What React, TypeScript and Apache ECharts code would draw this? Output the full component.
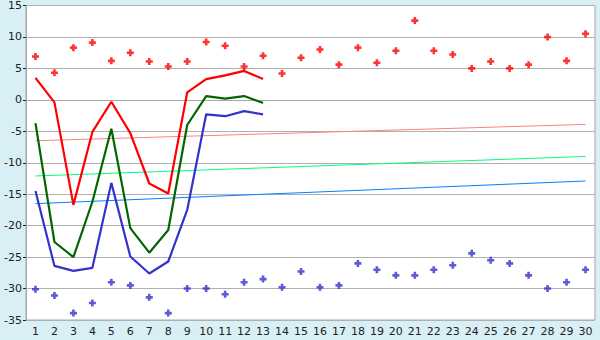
import React, { useEffect, useRef } from "react";
import * as echarts from "echarts";

const categories = Array.from({ length: 30 }, (_, i) => String(i + 1));

const maxPoints = [6.9, 4.3, 8.3, 9.1, 6.2, 7.5, 6.1, 5.3, 6.1, 9.2, 8.6, 5.3, 7.0, 4.2, 6.7, 8.0, 5.6, 8.3, 5.9, 7.8, 12.6, 7.8, 7.2, 5.0, 6.1, 5.0, 5.6, 10.0, 6.2, 10.5];
const minPoints = [-30.1, -31.1, -33.9, -32.3, -29.0, -29.5, -31.4, -33.9, -30.0, -30.0, -30.9, -29.0, -28.5, -29.8, -27.3, -29.8, -29.5, -26.0, -27.0, -27.9, -27.9, -27.0, -26.3, -24.4, -25.5, -26.0, -27.9, -30.0, -29.0, -27.0];

const redLine = [3.5, -0.4, -16.7, -5.1, -0.3, -5.3, -13.3, -14.9, 1.2, 3.3, 3.9, 4.6, 3.3];
const greenLine = [-3.7, -22.6, -25.0, -16.2, -4.6, -20.4, -24.3, -20.7, -4.0, 0.6, 0.2, 0.6, -0.5];
const blueLine = [-14.5, -26.4, -27.2, -26.7, -13.2, -24.9, -27.6, -25.7, -17.5, -2.3, -2.6, -1.8, -2.3];

// trend lines: [start value at category 1, end value at category 30]
const redTrend = [-6.5, -3.9];
const greenTrend = [-12.1, -9.0];
const blueTrend = [-16.5, -12.9];

const yTicks = { min: -35, max: 15, interval: 5 };

const marker = "path://M2.2,0H4.8V2.2H7V4.8H4.8V7H2.2V4.8H0V2.2H2.2Z";

export default function App() {
  const ref = useRef<HTMLDivElement>(null);
  useEffect(() => {
    if (!ref.current) return;
    const chart = echarts.init(ref.current, null, { renderer: "svg" });
    const last = categories.length - 1;
    const trend = (vals: number[], color: string) => ({
      type: "line",
      data: [
        [0, vals[0]],
        [last, vals[1]],
      ],
      showSymbol: false,
      symbol: "none",
      lineStyle: { color, width: 1 },
      z: 1,
      silent: true,
    });
    const mainLine = (vals: number[], color: string) => ({
      type: "line",
      data: vals,
      symbol: "none",
      lineStyle: { color, width: 2.2 },
      z: 3,
    });
    chart.setOption({
      animation: false,
      backgroundColor: "#d9eff6",
      textStyle: { fontFamily: "DejaVu Sans" },
      grid: {
        left: 26,
        top: 5,
        right: 5,
        bottom: 20,
        show: true,
        backgroundColor: "#ffffff",
        borderColor: "#a8a8a8",
        borderWidth: 1,
      },
      xAxis: {
        type: "category",
        data: categories,
        boundaryGap: true,
        axisLine: { lineStyle: { color: "#a8a8a8", width: 1 } },
        axisTick: {
          alignWithLabel: true,
          length: 5,
          lineStyle: { color: "#222", width: 1 },
        },
        axisLabel: { color: "#222", fontSize: 11, margin: 6, interval: 0 },
        splitLine: { show: false },
      },
      yAxis: {
        type: "value",
        min: yTicks.min,
        max: yTicks.max,
        interval: yTicks.interval,
        axisLine: { show: true, lineStyle: { color: "#a8a8a8", width: 1 } },
        axisTick: { show: true, length: 3, lineStyle: { color: "#222" } },
        axisLabel: { color: "#222", fontSize: 11, margin: 4 },
        splitLine: { lineStyle: { color: "#b0b0b0", width: 1 } },
      },
      series: [
        trend(redTrend, "#ff8080"),
        trend(greenTrend, "#00ff80"),
        trend(blueTrend, "#0080ff"),
        mainLine(redLine, "#ff0000"),
        mainLine(greenLine, "#006600"),
        mainLine(blueLine, "#3333cc"),
        {
          type: "scatter",
          data: maxPoints,
          symbol: marker,
          symbolSize: 7,
          itemStyle: { color: "#ff0000" },
          z: 4,
        },
        {
          type: "scatter",
          data: minPoints,
          symbol: marker,
          symbolSize: 7,
          itemStyle: { color: "#3333cc" },
          z: 4,
        },
      ],
    });
    return () => chart.dispose();
  }, []);
  return <div ref={ref} style={{ width: 600, height: 340, position: "absolute", left: 0, top: 0 }} />;
}
